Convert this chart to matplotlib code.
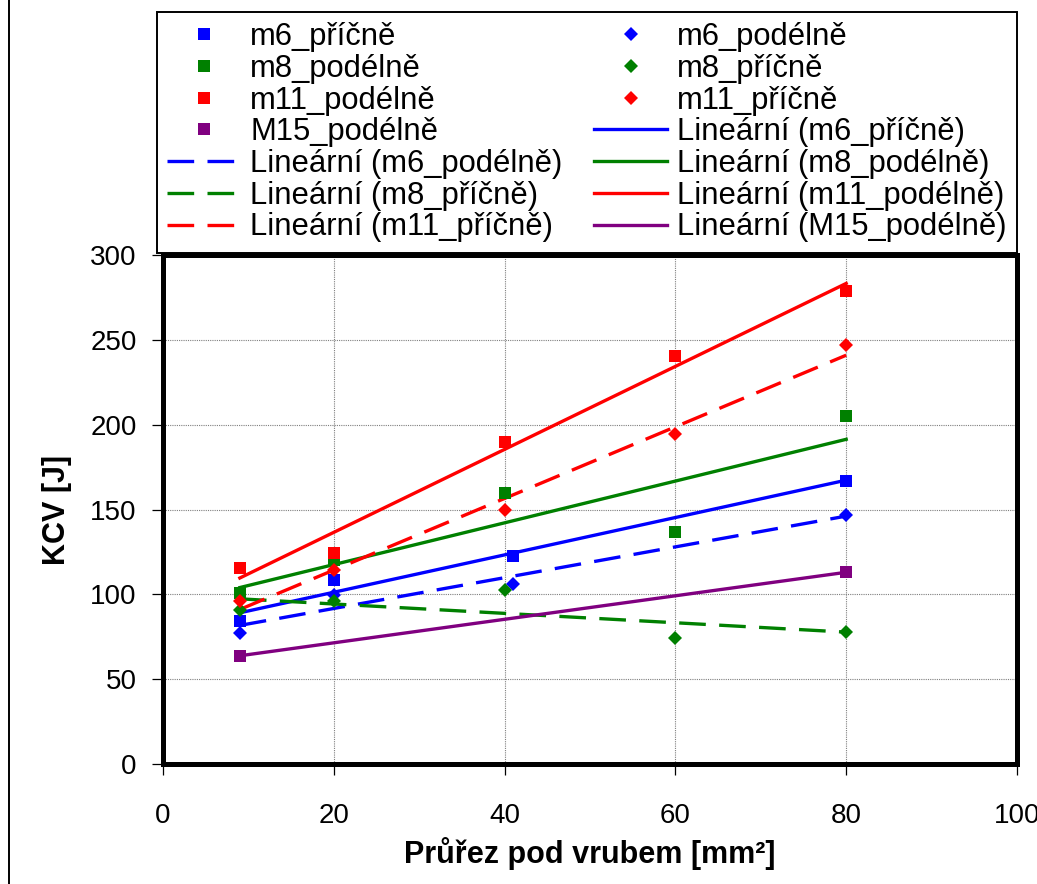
import numpy as np
import matplotlib
matplotlib.use("Agg")
import matplotlib.pyplot as plt
from matplotlib.patches import Rectangle

plt.rcParams['font.family'] = ['Liberation Sans', 'DejaVu Sans']

# Cross-section under the notch [mm^2] and impact energy KCV [J]
x_m6_pricne = [9, 20, 41, 80]
y_m6_pricne = [84.0, 108.5, 122.5, 167.0]

x_m6_podelne = [9, 20, 41, 80]
y_m6_podelne = [77.5, 99.7, 106.0, 147.0]

x_m8_podelne = [9, 20, 40, 60, 80]
y_m8_podelne = [100.6, 120.0, 159.5, 136.7, 205.0]

x_m8_pricne = [9, 20, 40, 60, 80]
y_m8_pricne = [90.6, 96.0, 102.6, 74.5, 77.7]

x_m11_podelne = [9, 20, 40, 60, 80]
y_m11_podelne = [115.7, 124.6, 189.6, 240.3, 279.0]

x_m11_pricne = [9, 20, 40, 60, 80]
y_m11_pricne = [96.0, 114.5, 149.7, 194.4, 247.0]

x_M15_podelne = [9, 80]
y_M15_podelne = [63.8, 113.0]

x_ticks = [0, 20, 40, 60, 80, 100]
y_ticks = [0, 50, 100, 150, 200, 250, 300]

BLUE, GREEN, RED, PURPLE = '#0000FF', '#008000', '#FF0000', '#800080'

series = [
    # name, x, y, color, marker, trendline style
    ('m6_příčně', x_m6_pricne, y_m6_pricne, BLUE, 's', 'solid'),
    ('m6_podélně', x_m6_podelne, y_m6_podelne, BLUE, 'D', 'dashed'),
    ('m8_podélně', x_m8_podelne, y_m8_podelne, GREEN, 's', 'solid'),
    ('m8_příčně', x_m8_pricne, y_m8_pricne, GREEN, 'D', 'dashed'),
    ('m11_podélně', x_m11_podelne, y_m11_podelne, RED, 's', 'solid'),
    ('m11_příčně', x_m11_pricne, y_m11_pricne, RED, 'D', 'dashed'),
    ('M15_podélně', x_M15_podelne, y_M15_podelne, PURPLE, 's', 'solid'),
]

W, H = 1037, 884
fig = plt.figure(figsize=(W / 100, H / 100), dpi=100)
ax = fig.add_axes([163 / W, 1 - 764 / H, (1017 - 163) / W, (764 - 255) / H])

LW = 2.4
DASH = (0, (8.0, 4.0))
markers = {}
trends = {}
for name, xs, ys, col, mk, style in series:
    xs_a = np.asarray(xs, float)
    ys_a = np.asarray(ys, float)
    # least-squares linear trendline over the measured range
    k, q = np.polyfit(xs_a, ys_a, 1)
    xt = np.array([xs_a.min(), xs_a.max()])
    ls = DASH if style == 'dashed' else '-'
    trends[name], = ax.plot(xt, k * xt + q, color=col, lw=LW, linestyle=ls,
                            zorder=3, label=f'Lineární ({name})')
    ms = 8.2 if mk == 's' else 7.0
    markers[name], = ax.plot(xs_a, ys_a, linestyle='none', marker=mk, ms=ms,
                             color=col, markeredgewidth=0, zorder=4, label=name)

ax.set_xlim(0, 100)
ax.set_ylim(0, 300)
ax.set_xticks(x_ticks)
ax.set_yticks(y_ticks)
ax.grid(True, color='#7f7f7f', linestyle=(0, (1, 1)), linewidth=0.8, zorder=0)
ax.set_axisbelow(True)
for sp in ax.spines.values():
    sp.set_linewidth(3.6)
    sp.set_color('black')
ax.tick_params(axis='both', direction='out', length=8, width=0.9, color='black',
               labelsize=20)
ax.tick_params(axis='x', pad=20)
ax.tick_params(axis='y', pad=11)

ax.set_xlabel('Průřez pod vrubem [mm²]', fontsize=22, fontweight='bold',
              va='baseline')
ax.xaxis.set_label_coords(0.5, (764 - 863) / 509)
ax.set_ylabel('KCV [J]', fontsize=22, fontweight='bold', va='center', ha='center')
ax.yaxis.set_label_coords((57 - 163) / 854, 0.5)

# legend: column-wise order
col1 = [markers['m6_příčně'], markers['m8_podélně'], markers['m11_podélně'],
        markers['M15_podélně'], trends['m6_podélně'], trends['m8_příčně'],
        trends['m11_příčně']]
col2 = [markers['m6_podélně'], markers['m8_příčně'], markers['m11_příčně'],
        trends['m6_příčně'], trends['m8_podélně'], trends['m11_podélně'],
        trends['M15_podélně']]
handles = col1 + col2
leg = fig.legend(handles, [h.get_label() for h in handles], ncol=2,
                 loc='upper left',
                 bbox_to_anchor=(157 / W, 1 - 253 / H, (1017 - 157) / W, (253 - 12) / H),
                 bbox_transform=fig.transFigure, mode='expand', borderaxespad=0,
                 fontsize=22.3, numpoints=1, handlelength=2.35, handletextpad=0.33,
                 labelspacing=0.055, borderpad=0.33, columnspacing=1.3,
                 fancybox=False, framealpha=1, edgecolor='black')
leg.get_frame().set_linewidth(1.4)

# outer chart border
fig.add_artist(Rectangle((9 / W, -0.2), 1.2, 1.2 + (1 - 12 / H), transform=fig.transFigure,
                         fill=False, edgecolor='black', linewidth=1.4, zorder=0))

fig.savefig('out.png', dpi=100)
